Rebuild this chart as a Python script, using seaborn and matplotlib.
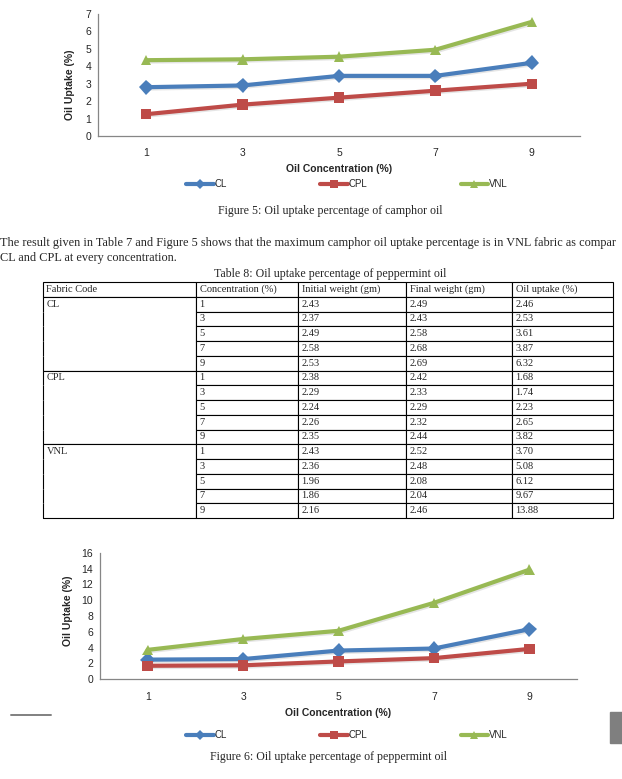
import pandas as pd
import seaborn as sns
import matplotlib.pyplot as plt
import matplotlib.patheffects as pe
from matplotlib.lines import Line2D
from matplotlib.patches import Rectangle

# ---- data ----
conc = [1, 3, 5, 7, 9]
fabrics = ['CL', 'CPL', 'VNL']

# Figure 5, camphor oil
camphor_cl = [2.8, 2.9, 3.45, 3.45, 4.2]
camphor_cpl = [1.25, 1.8, 2.2, 2.6, 3.0]
camphor_vnl = [4.35, 4.4, 4.55, 4.95, 6.55]

# Table 8, peppermint oil
init_cl = [2.43, 2.37, 2.49, 2.58, 2.53]
final_cl = [2.49, 2.43, 2.58, 2.68, 2.69]
mint_cl = [2.46, 2.53, 3.61, 3.87, 6.32]
init_cpl = [2.38, 2.29, 2.24, 2.26, 2.35]
final_cpl = [2.42, 2.33, 2.29, 2.32, 2.44]
mint_cpl = [1.68, 1.74, 2.23, 2.65, 3.82]
init_vnl = [2.43, 2.36, 1.96, 1.86, 2.16]
final_vnl = [2.52, 2.48, 2.08, 2.04, 2.46]
mint_vnl = [3.70, 5.08, 6.12, 9.67, 13.88]

table_header = ['Fabric Code', 'Concentration (%)', 'Initial weight (gm)',
                'Final weight (gm)', 'Oil uptake (%)']

palette = {'CL': '#4A7EBB', 'CPL': '#BE4B48', 'VNL': '#98B954'}
markers = {'CL': 'D', 'CPL': 's', 'VNL': '^'}

W, H = 622, 779


def fx(x):
    return x / W


def fy(y):
    return 1 - y / H


def long_df(cl, cpl, vnl):
    rows = []
    for name, vals in zip(fabrics, [cl, cpl, vnl]):
        for c, v in zip(conc, vals):
            rows.append({'conc': c, 'uptake': v, 'fabric': name})
    return pd.DataFrame(rows)


sns.set_style("white")
plt.rcParams['font.family'] = ['Liberation Sans', 'DejaVu Sans']
serif = ['Liberation Serif', 'DejaVu Serif']

fig = plt.figure(figsize=(W / 100, H / 100), dpi=100)


def draw_chart(ax, df, ymax, ystep, ylab_x, ylab_y, xlab_y, leg_y):
    sns.lineplot(data=df, x='conc', y='uptake', hue='fabric', style='fabric',
                 hue_order=fabrics, style_order=fabrics, palette=palette,
                 markers=markers, dashes=False, lw=3, markersize=7.5,
                 markeredgewidth=0, legend=False, ax=ax)
    for ln in ax.lines:
        ln.set_path_effects([pe.SimpleLineShadow(offset=(1, -1), alpha=0.15,
                                                 shadow_color='#555555'),
                             pe.Normal()])
    ax.set_xlim(0, 10)
    ax.set_ylim(0, ymax)
    ax.set_xticks(conc)
    ax.set_yticks(range(0, ymax + 1, ystep))
    for s in ['top', 'right']:
        ax.spines[s].set_visible(False)
    for s in ['left', 'bottom']:
        ax.spines[s].set_color('#868686')
        ax.spines[s].set_linewidth(0.9)
    ax.tick_params(axis='y', length=3, width=0.8, color='#868686', labelsize=7.5, pad=2)
    ax.tick_params(axis='x', length=0, labelsize=7.5, pad=9)
    ax.set_ylabel('Oil Uptake (%)', fontweight='bold', fontsize=7.5, va='center')
    ax.yaxis.set_label_coords(ylab_x, ylab_y)
    ax.set_xlabel('Oil Concentration (%)', fontweight='bold', fontsize=7.5, va='center')
    ax.xaxis.set_label_coords(0.5, xlab_y)
    handles = [Line2D([], [], color=palette[f], marker=markers[f], lw=3,
                      markersize=5.5, markeredgewidth=0) for f in fabrics]
    fig.legend(handles, fabrics, loc='center', bbox_to_anchor=(fx(347), fy(leg_y)),
               ncol=3, frameon=False, fontsize=7, handlelength=2.8,
               handletextpad=0.1, columnspacing=9.6, borderpad=0)


# ---- Figure 5 ----
ax1 = fig.add_axes([fx(98), fy(136), (580 - 98) / W, (136 - 14) / H])
draw_chart(ax1, long_df(camphor_cl, camphor_cpl, camphor_vnl), 7, 1,
           -0.058, 0.42, -(169 - 136) / 122, 184)

# ---- Figure 6 ----
ax2 = fig.add_axes([fx(100), fy(679), (577 - 100) / W, (679 - 553) / H])
draw_chart(ax2, long_df(mint_cl, mint_cpl, mint_vnl), 16, 2,
           -0.067, 0.54, -(713 - 679) / 126, 735)

# ---- page text (the paragraph line is cut at the page edge, as on the scan) ----
fig.text(fx(330), fy(211), 'Figure 5: Oil uptake percentage of camphor oil',
         ha='center', va='center', family=serif, fontsize=8.6)
fig.text(fx(0), fy(243), 'The result given in Table 7 and Figure 5 shows that the maximum '
         'camphor oil uptake percentage is in VNL fabric as compar',
         ha='left', va='center', family=serif, fontsize=8.85)
fig.text(fx(0), fy(258), 'CL and CPL at every concentration.',
         ha='left', va='center', family=serif, fontsize=8.85)
fig.text(fx(330), fy(274), 'Table 8: Oil uptake percentage of peppermint oil',
         ha='center', va='center', family=serif, fontsize=8.6)
fig.text(fx(329), fy(757), 'Figure 6: Oil uptake percentage of peppermint oil',
         ha='center', va='center', family=serif, fontsize=8.6)

# ---- Table 8 ----
cell_text = []
for name, ini, fin, up in zip(fabrics, [init_cl, init_cpl, init_vnl],
                              [final_cl, final_cpl, final_vnl],
                              [mint_cl, mint_cpl, mint_vnl]):
    for i, c in enumerate(conc):
        cell_text.append([name if i == 0 else '', str(c), f'{ini[i]:.2f}',
                          f'{fin[i]:.2f}', f'{up[i]:.2f}'])

col_px = [153, 102, 108, 106, 101]
tax = fig.add_axes([fx(43), fy(518), (613 - 43) / W, (518 - 282) / H])
tax.axis('off')
tbl = tax.table(cellText=cell_text, colLabels=table_header,
                colWidths=[c / sum(col_px) for c in col_px],
                cellLoc='left', colLoc='left', bbox=[0, 0, 1, 1])
tbl.auto_set_font_size(False)
tbl.set_fontsize(7.5)
for (r, c), cell in tbl.get_celld().items():
    cell.set_linewidth(0.8)
    cell.set_edgecolor('black')
    cell.PAD = 3.5 / col_px[c]
    cell.get_text().set_fontfamily(serif)
    if c == 0 and r >= 1:
        pos = (r - 1) % 5
        edges = 'LR'
        if pos == 0:
            edges += 'T'
        if pos == 4:
            edges += 'B'
        cell.visible_edges = edges

# ---- page decorations ----
fig.add_artist(Line2D([fx(11), fx(51)], [fy(715), fy(715)], color='#808080',
                      lw=1.4, transform=fig.transFigure))
fig.add_artist(Rectangle((fx(610), fy(743)), 12 / W, 31 / H, color='#7f7f7f',
                         transform=fig.transFigure))

fig.savefig('out.png', dpi=100)
